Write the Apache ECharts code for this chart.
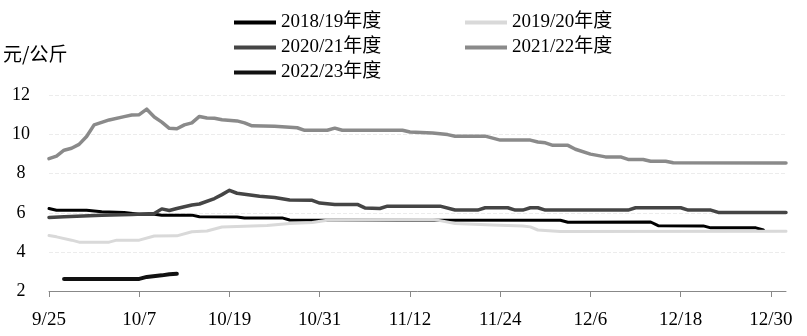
<!DOCTYPE html>
<html>
<head>
<meta charset="utf-8">
<script src="https://cdn.jsdelivr.net/npm/echarts@6/dist/echarts.min.js"></script>
<style>
html,body{margin:0;padding:0;background:#fff;}
#chart{width:807px;height:336px;}
</style>
</head>
<body>
<div id="chart"></div>
<script>
// Date categories 9/25 .. 1/1 (one per day)
const categories = (function(){
  const out = [];
  const d0 = Date.UTC(2022, 8, 25);
  for (let i = 0; i <= 98; i++) {
    const d = new Date(d0 + i * 86400000);
    out.push((d.getUTCMonth() + 1) + '/' + d.getUTCDate());
  }
  return out;
})();
const tickLabels = ['9/25','10/7','10/19','10/31','11/12','11/24','12/6','12/18','12/30'];
const seriesNames = ['2018/19年度','2019/20年度','2020/21年度','2021/22年度','2022/23年度'];
const yUnit = '元/公斤';

// [date, value] vertices
const s1819 = [['9/25',6.22],['9/26',6.13],['9/30',6.13],['10/2',6.05],['10/5',6.01],['10/7',5.93],['10/9',5.93],
  ['10/10',5.88],['10/14',5.88],['10/15',5.80],['10/20',5.79],['10/21',5.73],['10/26',5.74],['10/27',5.63],
  ['12/2',5.62],['12/3',5.52],['12/14',5.53],['12/15',5.34],['12/21',5.33],['12/22',5.23],['12/28',5.23],['12/29',5.12]];
const s1920 = [['9/25',4.84],['9/26',4.77],['9/28',4.60],['9/29',4.50],['10/3',4.50],['10/4',4.60],['10/7',4.60],
  ['10/9',4.81],['10/12',4.82],['10/14',5.03],['10/16',5.07],['10/18',5.27],['10/24',5.35],['10/27',5.45],
  ['10/30',5.50],['11/1',5.62],['11/15',5.66],['11/16',5.60],['11/18',5.45],['11/23',5.38],['11/27',5.32],
  ['11/28',5.28],['11/29',5.12],['12/2',5.04],['1/1',5.06]];
const s2021 = [['9/25',5.76],['9/27',5.80],['10/2',5.88],['10/6',5.91],['10/9',5.96],['10/10',6.20],['10/11',6.12],
  ['10/12',6.22],['10/14',6.40],['10/15',6.45],['10/17',6.73],['10/18',6.93],['10/19',7.15],['10/20',7.00],
  ['10/22',6.90],['10/23',6.85],['10/25',6.78],['10/27',6.65],['10/30',6.64],['10/31',6.50],['11/2',6.43],
  ['11/5',6.43],['11/6',6.25],['11/8',6.22],['11/9',6.34],['11/16',6.34],['11/18',6.14],['11/21',6.14],
  ['11/22',6.26],['11/25',6.26],['11/26',6.14],['11/27',6.14],['11/28',6.26],['11/29',6.26],['11/30',6.14],
  ['12/11',6.14],['12/12',6.26],['12/18',6.26],['12/19',6.14],['12/22',6.14],['12/23',6.02],['1/1',6.01]];
const s2122 = [['9/25',8.77],['9/26',8.90],['9/27',9.20],['9/28',9.30],['9/29',9.50],['9/30',9.90],['10/1',10.50],
  ['10/3',10.75],['10/5',10.92],['10/6',11.00],['10/7',11.02],['10/8',11.30],['10/9',10.90],['10/10',10.64],
  ['10/11',10.32],['10/12',10.30],['10/13',10.50],['10/14',10.60],['10/15',10.93],['10/16',10.85],['10/17',10.84],
  ['10/18',10.76],['10/20',10.70],['10/21',10.60],['10/22',10.45],['10/25',10.43],['10/28',10.35],['10/29',10.22],
  ['11/1',10.22],['11/2',10.33],['11/3',10.22],['11/11',10.22],['11/12',10.13],['11/15',10.08],['11/17',10.00],
  ['11/18',9.92],['11/22',9.92],['11/24',9.72],['11/28',9.72],['11/29',9.62],['11/30',9.58],['12/1',9.45],
  ['12/3',9.45],['12/4',9.25],['12/6',9.00],['12/8',8.86],['12/10',8.86],['12/11',8.73],['12/13',8.73],
  ['12/14',8.64],['12/16',8.64],['12/17',8.56],['1/1',8.55]];
const s2223 = [['9/27',2.62],['10/7',2.62],['10/8',2.72],['10/10',2.80],['10/11',2.86],['10/12',2.88]];

const seriesData = [s1819, s1920, s2021, s2122, s2223];
const colors = ['#000000','#d9d9d9','#454545','#8a8a8a','#111111'];
const widths = [3, 3, 3.5, 3.5, 4];

const FONT = "'Liberation Serif', 'Noto Sans CJK SC', serif";
const chart = echarts.init(document.getElementById('chart'), null, {renderer:'canvas'});
chart.setOption({
  animation: false,
  backgroundColor: '#ffffff',
  color: colors,
  grid: {left: 49, right: 21, top: 95.5, bottom: 45},
  legend: [
    {data: [seriesNames[0], seriesNames[2], seriesNames[4]], orient: 'vertical', left: 229, top: 8,
     icon: 'rect', itemWidth: 42, itemHeight: 4, itemGap: 6,
     textStyle: {fontFamily: FONT, fontSize: 19, color: '#000', lineHeight: 18}},
    {data: [seriesNames[1], seriesNames[3]], orient: 'vertical', left: 460, top: 8,
     icon: 'rect', itemWidth: 42, itemHeight: 4, itemGap: 6,
     textStyle: {fontFamily: FONT, fontSize: 19, color: '#000', lineHeight: 18}}
  ],
  graphic: [{type: 'text', left: 3, top: 44, style: {text: yUnit, font: "19px 'Noto Sans CJK SC'", fill: '#000'}}],
  xAxis: {
    type: 'category', data: categories, boundaryGap: false,
    axisLine: {lineStyle: {color: '#888', width: 1}},
    axisTick: {length: 6, lineStyle: {color: '#888'}, interval: function(i, v){ return tickLabels.indexOf(v) >= 0; }},
    axisLabel: {interval: function(i, v){ return tickLabels.indexOf(v) >= 0; }, margin: 20,
      fontFamily: FONT, fontSize: 19, color: '#000'},
    splitLine: {show: false}
  },
  yAxis: {
    type: 'value', min: 2, max: 12, interval: 2,
    axisLine: {show: false}, axisTick: {show: false},
    axisLabel: {margin: 28, align: 'center', fontFamily: FONT, fontSize: 18, color: '#000'},
    splitLine: {lineStyle: {color: '#ececec', type: 'dashed', width: 1}}
  },
  series: seriesNames.map(function(name, k){
    return {name: name, type: 'line', data: seriesData[k], showSymbol: false, symbol: 'none',
      lineStyle: {color: colors[k], width: widths[k], join: 'round', cap: 'round'},
      itemStyle: {color: colors[k]}};
  })
});
</script>
</body>
</html>
